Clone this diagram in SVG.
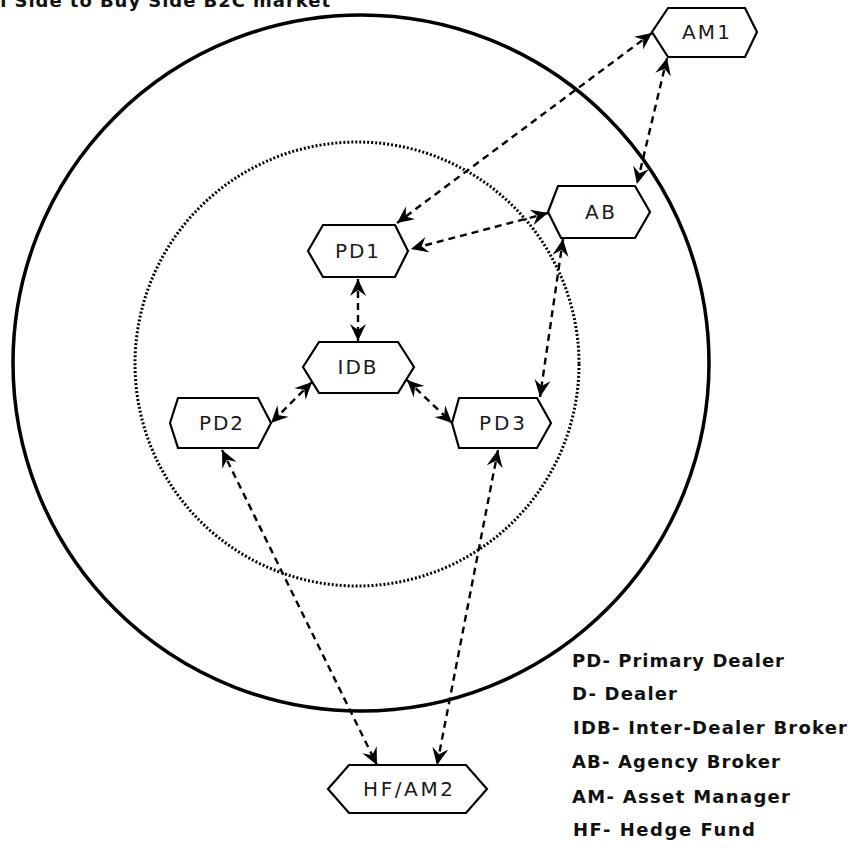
<svg xmlns="http://www.w3.org/2000/svg" width="852" height="854" viewBox="0 0 852 854">
<style>
  .hex { fill: #ffffff; stroke: #000000; stroke-width: 2.2; stroke-linejoin: miter; }
  .lbl { font-family: "DejaVu Sans", "Liberation Sans", sans-serif; font-size: 20px; fill: #1a1a1a; text-anchor: middle; }
  .leg { font-family: "DejaVu Sans", "Liberation Sans", sans-serif; font-size: 18px; font-weight: bold; fill: #111111; }
  .conn { fill: none; stroke: #000000; stroke-width: 2.4; stroke-dasharray: 7 5; marker-start: url(#arr); marker-end: url(#arr); }
</style>
<defs>
  <marker id="arr" markerUnits="userSpaceOnUse" markerWidth="18" markerHeight="16" refX="17" refY="8" orient="auto-start-reverse" viewBox="0 0 18 16">
    <path d="M0,0 L17,8 L0,16 L6,8 z" fill="#000000"/>
  </marker>
</defs>
<rect x="0" y="0" width="852" height="854" fill="#ffffff"/>
<text class="leg" x="-34" y="7" textLength="364" lengthAdjust="spacing">Sell Side to Buy Side B2C market</text>
<g id="outer-circle"><circle cx="361" cy="363" r="348" fill="none" stroke="#000" stroke-width="3.5"/></g>
<g id="inner-circle"><circle cx="357" cy="364" r="222" fill="none" stroke="#000" stroke-width="3" stroke-dasharray="2 2"/></g>
<g id="connectors">
  <line class="conn" x1="652" y1="33" x2="397" y2="223"/>
  <line class="conn" x1="667" y1="58" x2="637" y2="184"/>
  <line class="conn" x1="548" y1="213" x2="411" y2="249"/>
  <line class="conn" x1="563" y1="239" x2="540" y2="397"/>
  <line class="conn" x1="358" y1="279" x2="358" y2="341"/>
  <line class="conn" x1="312" y1="382" x2="271" y2="423"/>
  <line class="conn" x1="407" y1="380" x2="452" y2="423"/>
  <line class="conn" x1="222" y1="450" x2="377" y2="765"/>
  <line class="conn" x1="498" y1="450" x2="437" y2="765"/>
</g>
<g id="AM1">
  <polygon class="hex" points="652,32 668,8 745,8 757,32 745,57 668,57"/>
  <text class="lbl" x="706" y="39" textLength="48" lengthAdjust="spacing">AM1</text>
</g>
<g id="AB">
  <polygon class="hex" points="548,212 558,186 635,186 650,212 635,238 561,238"/>
  <text class="lbl" x="600" y="219" textLength="30" lengthAdjust="spacing">AB</text>
</g>
<g id="PD1">
  <polygon class="hex" points="308,251 323,225 395,225 408,251 395,277 323,277"/>
  <text class="lbl" x="357" y="258" textLength="44" lengthAdjust="spacing">PD1</text>
</g>
<g id="IDB">
  <polygon class="hex" points="303,367 319,342 398,342 414,367 398,393 319,393"/>
  <text class="lbl" x="357" y="374" textLength="39" lengthAdjust="spacing">IDB</text>
</g>
<g id="PD2">
  <polygon class="hex" points="170,423 178,398 258,398 271,423 258,448 178,448"/>
  <text class="lbl" x="221" y="430" textLength="44" lengthAdjust="spacing">PD2</text>
</g>
<g id="PD3">
  <polygon class="hex" points="452,423 459,398 537,398 551,423 537,448 459,448"/>
  <text class="lbl" x="502" y="430" textLength="46" lengthAdjust="spacing">PD3</text>
</g>
<g id="HF-AM2">
  <polygon class="hex" points="328,789 349,765 466,765 487,789 466,813 349,813"/>
  <text class="lbl" x="408" y="796" textLength="90" lengthAdjust="spacing">HF/AM2</text>
</g>
<g id="legend">
  <text class="leg" x="572" y="667" textLength="212" lengthAdjust="spacing">PD- Primary Dealer</text>
  <text class="leg" x="572" y="700" textLength="105" lengthAdjust="spacing">D- Dealer</text>
  <text class="leg" x="573" y="734" textLength="274" lengthAdjust="spacing">IDB- Inter-Dealer Broker</text>
  <text class="leg" x="572" y="768" textLength="208" lengthAdjust="spacing">AB- Agency Broker</text>
  <text class="leg" x="572" y="803" textLength="218" lengthAdjust="spacing">AM- Asset Manager</text>
  <text class="leg" x="573" y="836" textLength="182" lengthAdjust="spacing">HF- Hedge Fund</text>
</g>
</svg>
